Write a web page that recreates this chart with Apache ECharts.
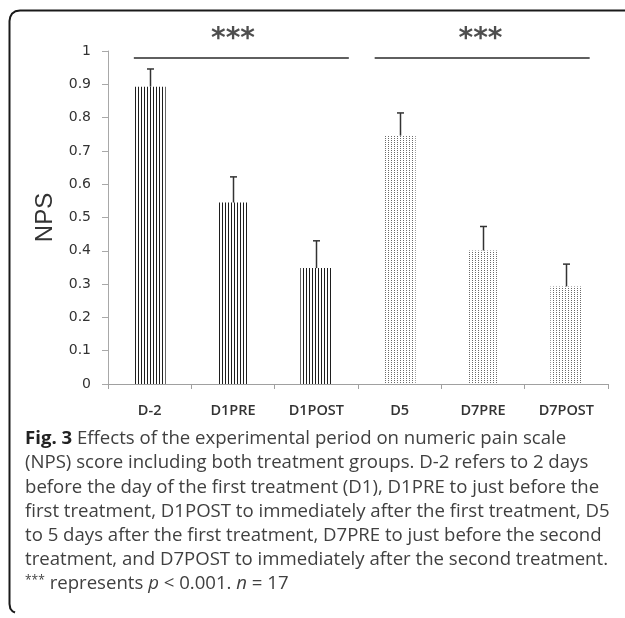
<!DOCTYPE html>
<html>
<head>
<meta charset="utf-8">
<script src="https://cdn.jsdelivr.net/npm/echarts@6/dist/echarts.min.js"></script>
<style>
html,body{margin:0;padding:0;background:#fff;}
#c{width:625px;height:618px;}
</style>
</head>
<body>
<div id="c"></div>
<script>
// ---- data ----
const categories = ['D-2', 'D1PRE', 'D1POST', 'D5', 'D7PRE', 'D7POST'];
const npsMean = [0.893, 0.545, 0.348, 0.746, 0.401, 0.293];
const npsSD = [0.053, 0.077, 0.082, 0.068, 0.072, 0.067];
const fillGroup = ['stripe', 'stripe', 'stripe', 'dots', 'dots', 'dots'];
const yTicks = { min: 0, max: 1, interval: 0.1 };
// significance brackets (positions in category units, 0..6 across the axis)
const sigFrom = [0.31, 3.2];
const sigTo = [2.89, 5.78];
const sigLevel = [0.979, 0.979];
const sigStarPos = [1.5, 4.47];
const sigStarLevel = [1.035, 1.035];
const sigText = ['***', '***'];
const captionLines = [
  '{b|Fig. 3} Effects of the experimental period on numeric pain scale',
  '(NPS) score including both treatment groups. D-2 refers to 2 days',
  'before the day of the first treatment (D1), D1PRE to just before the',
  'first treatment, D1POST to immediately after the first treatment, D5',
  'to 5 days after the first treatment, D7PRE to just before the second',
  'treatment, and D7POST to immediately after the second treatment.',
  '{s|***} represents {i|p} < 0.001. {i|n} = 17'
];

function makeStripe() {
  const c = document.createElement('canvas');
  c.width = 3; c.height = 4;
  const g = c.getContext('2d');
  g.fillStyle = '#ffffff'; g.fillRect(0, 0, 3, 4);
  g.fillStyle = '#1e1e1e'; g.fillRect(0, 0, 1, 4);
  return c;
}
function makeDots() {
  const c = document.createElement('canvas');
  c.width = 3; c.height = 2;
  const g = c.getContext('2d');
  g.fillStyle = '#ffffff'; g.fillRect(0, 0, 3, 2);
  g.fillStyle = '#6a6a6a'; g.fillRect(1, 0, 1, 1);
  return c;
}
const patterns = {
  stripe: { image: makeStripe(), repeat: 'repeat' },
  dots: { image: makeDots(), repeat: 'repeat' }
};

const chart = echarts.init(document.getElementById('c'), null, { renderer: 'canvas' });

const barData = npsMean.map((v, i) => ({ value: v, itemStyle: { color: patterns[fillGroup[i]] } }));
const errData = npsMean.map((v, i) => [i, v, v + npsSD[i]]);

const sigSeries = sigFrom.map((f, k) => ({
  type: 'line', xAxisIndex: 1, yAxisIndex: 0, clip: false, silent: true,
  symbol: 'none', lineStyle: { color: '#2a2a2a', width: 1.5 },
  data: [[f, sigLevel[k]], [sigTo[k], sigLevel[k]]], z: 5
}));

const starSeries = {
  type: 'scatter', xAxisIndex: 1, yAxisIndex: 0, clip: false, silent: true,
  symbolSize: 0,
  data: sigStarPos.map((x, k) => ({ value: [x, sigStarLevel[k]], name: sigText[k] })),
  label: {
    show: true, position: 'inside', formatter: p => p.name,
    fontFamily: 'DejaVu Sans', fontSize: 28, fontWeight: 'bold', color: '#222'
  }
};

const capFont = '"Open Sans", sans-serif';
const capSize = 18.6;
const graphics = [
  {
    type: 'polyline', silent: true,
    shape: { points: [[626, 10.5], [20, 10.5], [15.5, 11.3], [12, 13.8], [10.2, 17], [9.5, 21], [9.5, 604], [10.3, 608.5], [12.5, 611.3], [15, 612.5]] },
    style: { stroke: '#1a1a1a', lineWidth: 2, fill: null }
  }
].concat(captionLines.map((t, k) => ({
  type: 'text', silent: true, left: 25, top: 429.5 + 24.2 * k,
  style: {
    text: t, fontFamily: capFont, fontSize: capSize, fill: '#404040',
    rich: {
      b: { fontFamily: capFont, fontSize: capSize, fontWeight: 'bold', fill: '#222' },
      i: { fontFamily: capFont, fontSize: capSize, fontStyle: 'italic', fill: '#404040' },
      s: { fontFamily: capFont, fontSize: 12, fill: '#404040', verticalAlign: 'top' }
    }
  }
})));

chart.setOption({
  animation: false,
  backgroundColor: '#fff',
  grid: { left: 108, right: 17, top: 51, bottom: 234, containLabel: false },
  xAxis: [
    {
      type: 'category', data: categories, boundaryGap: true,
      axisLine: { lineStyle: { color: '#a0a0a0', width: 1 } },
      axisTick: { show: true, length: 5, lineStyle: { color: '#a0a0a0' } },
      axisLabel: { margin: 19, fontFamily: '"Open Sans", sans-serif', fontSize: 14.5, fontWeight: 600, color: '#333' },
      splitLine: { show: false }
    },
    { type: 'value', min: 0, max: 6, show: false, splitLine: { show: false } }
  ],
  yAxis: {
    type: 'value', min: yTicks.min, max: yTicks.max, interval: yTicks.interval,
    name: 'NPS', nameLocation: 'middle', nameGap: 51, nameRotate: 90,
    nameTextStyle: { fontFamily: 'Liberation Sans', fontSize: 24, color: '#333' },
    axisLine: { show: true, lineStyle: { color: '#a8a8a8', width: 1 } },
    axisTick: { show: true, length: 6, lineStyle: { color: '#a8a8a8' } },
    axisLabel: { margin: 17, fontFamily: 'DejaVu Sans', fontSize: 14, color: '#333' },
    splitLine: { show: false }
  },
  series: [
    { type: 'bar', data: barData, barWidth: 32, silent: true, z: 2 },
    {
      type: 'custom', data: errData, silent: true, z: 3,
      renderItem: function (params, api) {
        const p0 = api.coord([api.value(0), api.value(1)]);
        const p1 = api.coord([api.value(0), api.value(2)]);
        const x = Math.round(p0[0]) + 0.5;
        return {
          type: 'group', children: [
            { type: 'line', shape: { x1: x, y1: p0[1], x2: x, y2: p1[1] }, style: { stroke: '#333', lineWidth: 1.5 } },
            { type: 'line', shape: { x1: x - 3.5, y1: p1[1], x2: x + 3.5, y2: p1[1] }, style: { stroke: '#333', lineWidth: 1.5 } }
          ]
        };
      }
    }
  ].concat(sigSeries, [starSeries]),
  graphic: graphics
});
</script>
</body>
</html>
